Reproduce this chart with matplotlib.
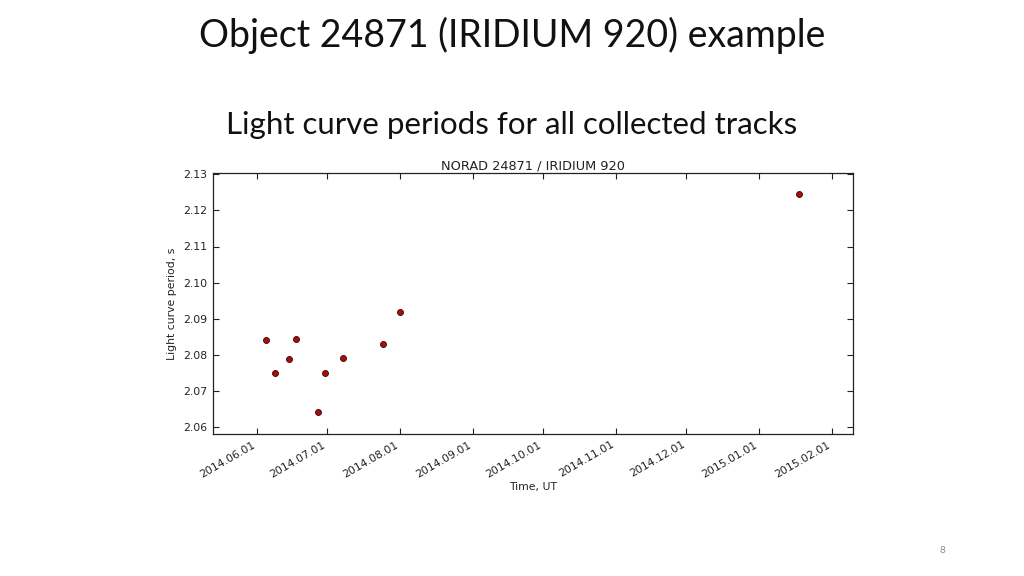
import numpy as np
import pandas as pd
import matplotlib
matplotlib.use('Agg')
import matplotlib.pyplot as plt
import matplotlib.dates as mdates

dates = ['2014-06-05', '2014-06-09', '2014-06-15', '2014-06-18', '2014-06-27',
         '2014-06-30', '2014-07-08', '2014-07-25', '2014-08-01', '2015-01-18']
periods = [2.0841, 2.0751, 2.0790, 2.0845, 2.0643,
           2.0751, 2.0793, 2.0830, 2.0918, 2.1245]
yticks = [2.06, 2.07, 2.08, 2.09, 2.10, 2.11, 2.12, 2.13]

dates = pd.to_datetime(dates)

fig = plt.figure(figsize=(10.24, 5.76), dpi=100)
fig.patch.set_facecolor('white')

fig.text(0.5, 0.938, 'Object 24871 (IRIDIUM 920) example', ha='center', va='center',
         fontsize=27, family='Lato', color='#111111')
fig.text(0.5, 0.783, 'Light curve periods for all collected tracks', ha='center', va='center',
         fontsize=22.5, family='Lato', color='#111111')
fig.text(0.92, 0.045, '8', ha='center', va='center', fontsize=7, color='#8c8c8c',
         family='Lato')

ax = fig.add_axes([0.2077, 0.2465, 0.6256, 0.4525])
ax.plot(dates, periods, 'o', color='#a50f0f', markeredgecolor='#3a0000',
        markersize=4.3, markeredgewidth=0.6)

ax.set_xlim(pd.Timestamp('2014-05-13 08:00'), pd.Timestamp('2015-02-10'))
ax.set_ylim(2.0582, 2.1302)
ax.set_yticks(yticks)
ax.yaxis.set_major_formatter(plt.FormatStrFormatter('%.2f'))
ax.xaxis.set_major_locator(mdates.MonthLocator())
ax.xaxis.set_major_formatter(mdates.DateFormatter('%Y.%m.%d'))
plt.setp(ax.get_xticklabels(), rotation=30, ha='right')

ax.tick_params(direction='in', top=True, right=True, labelsize=7.8, length=4,
               colors='#222222', pad=4)
for s in ax.spines.values():
    s.set_linewidth(0.9)
    s.set_color('#222222')

ax.set_title('NORAD 24871 / IRIDIUM 920', fontsize=9.3, color='#222222', pad=3)
ax.set_xlabel('Time, UT', fontsize=7.8, color='#222222', labelpad=2)
ax.set_ylabel('Light curve period, s', fontsize=7.8, color='#222222', labelpad=4)

fig.savefig('out.png', dpi=100, facecolor='white')
